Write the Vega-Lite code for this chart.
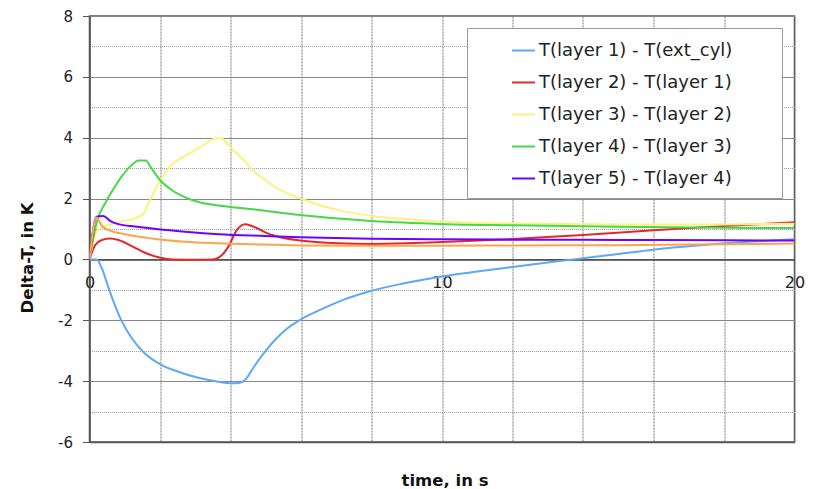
{
  "$schema": "https://vega.github.io/schema/vega-lite/v6.json",
  "width": 705,
  "height": 426,
  "autosize": {"type": "none"},
  "padding": {"left": 89.5, "top": 16, "right": 20, "bottom": 47},
  "background": "white",
  "config": {
    "font": "DejaVu Sans",
    "view": {"stroke": "#555", "strokeWidth": 1.5}
  },
  "datasets": {
    "series": [
      {"s": "T(layer 1) - T(ext_cyl)", "t": 0, "v": 0},
      {"s": "T(layer 1) - T(ext_cyl)", "t": 0.2, "v": 0},
      {"s": "T(layer 1) - T(ext_cyl)", "t": 0.35, "v": -0.29},
      {"s": "T(layer 1) - T(ext_cyl)", "t": 0.53, "v": -0.9},
      {"s": "T(layer 1) - T(ext_cyl)", "t": 0.72, "v": -1.5},
      {"s": "T(layer 1) - T(ext_cyl)", "t": 0.91, "v": -2.02},
      {"s": "T(layer 1) - T(ext_cyl)", "t": 1.2, "v": -2.59},
      {"s": "T(layer 1) - T(ext_cyl)", "t": 1.57, "v": -3.09},
      {"s": "T(layer 1) - T(ext_cyl)", "t": 2.05, "v": -3.47},
      {"s": "T(layer 1) - T(ext_cyl)", "t": 2.52, "v": -3.69},
      {"s": "T(layer 1) - T(ext_cyl)", "t": 3.09, "v": -3.89},
      {"s": "T(layer 1) - T(ext_cyl)", "t": 3.66, "v": -4.02},
      {"s": "T(layer 1) - T(ext_cyl)", "t": 4.03, "v": -4.07},
      {"s": "T(layer 1) - T(ext_cyl)", "t": 4.27, "v": -4.05},
      {"s": "T(layer 1) - T(ext_cyl)", "t": 4.41, "v": -3.96},
      {"s": "T(layer 1) - T(ext_cyl)", "t": 4.7, "v": -3.47},
      {"s": "T(layer 1) - T(ext_cyl)", "t": 4.98, "v": -3.03},
      {"s": "T(layer 1) - T(ext_cyl)", "t": 5.3, "v": -2.6},
      {"s": "T(layer 1) - T(ext_cyl)", "t": 5.6, "v": -2.28},
      {"s": "T(layer 1) - T(ext_cyl)", "t": 6.0, "v": -1.97},
      {"s": "T(layer 1) - T(ext_cyl)", "t": 6.54, "v": -1.66},
      {"s": "T(layer 1) - T(ext_cyl)", "t": 7.2, "v": -1.33},
      {"s": "T(layer 1) - T(ext_cyl)", "t": 8.0, "v": -1.03},
      {"s": "T(layer 1) - T(ext_cyl)", "t": 8.9, "v": -0.79},
      {"s": "T(layer 1) - T(ext_cyl)", "t": 10.0, "v": -0.56},
      {"s": "T(layer 1) - T(ext_cyl)", "t": 11.0, "v": -0.4},
      {"s": "T(layer 1) - T(ext_cyl)", "t": 12.0, "v": -0.25},
      {"s": "T(layer 1) - T(ext_cyl)", "t": 13.0, "v": -0.1},
      {"s": "T(layer 1) - T(ext_cyl)", "t": 14.0, "v": 0.04},
      {"s": "T(layer 1) - T(ext_cyl)", "t": 15.0, "v": 0.18},
      {"s": "T(layer 1) - T(ext_cyl)", "t": 16.0, "v": 0.32},
      {"s": "T(layer 1) - T(ext_cyl)", "t": 17.0, "v": 0.43},
      {"s": "T(layer 1) - T(ext_cyl)", "t": 18.0, "v": 0.53},
      {"s": "T(layer 1) - T(ext_cyl)", "t": 19.0, "v": 0.6},
      {"s": "T(layer 1) - T(ext_cyl)", "t": 20.0, "v": 0.66},

      {"s": "T(layer 2) - T(layer 1)", "t": 0, "v": 0},
      {"s": "T(layer 2) - T(layer 1)", "t": 0.16, "v": 0.47},
      {"s": "T(layer 2) - T(layer 1)", "t": 0.35, "v": 0.64},
      {"s": "T(layer 2) - T(layer 1)", "t": 0.58, "v": 0.69},
      {"s": "T(layer 2) - T(layer 1)", "t": 0.82, "v": 0.64},
      {"s": "T(layer 2) - T(layer 1)", "t": 1.2, "v": 0.44},
      {"s": "T(layer 2) - T(layer 1)", "t": 1.57, "v": 0.22},
      {"s": "T(layer 2) - T(layer 1)", "t": 1.95, "v": 0.07},
      {"s": "T(layer 2) - T(layer 1)", "t": 2.33, "v": 0.0},
      {"s": "T(layer 2) - T(layer 1)", "t": 3.0, "v": -0.01},
      {"s": "T(layer 2) - T(layer 1)", "t": 3.47, "v": 0.0},
      {"s": "T(layer 2) - T(layer 1)", "t": 3.75, "v": 0.14},
      {"s": "T(layer 2) - T(layer 1)", "t": 3.94, "v": 0.42},
      {"s": "T(layer 2) - T(layer 1)", "t": 4.18, "v": 0.97},
      {"s": "T(layer 2) - T(layer 1)", "t": 4.41, "v": 1.16},
      {"s": "T(layer 2) - T(layer 1)", "t": 4.6, "v": 1.1},
      {"s": "T(layer 2) - T(layer 1)", "t": 4.8, "v": 1.0},
      {"s": "T(layer 2) - T(layer 1)", "t": 5.0, "v": 0.88},
      {"s": "T(layer 2) - T(layer 1)", "t": 5.3, "v": 0.76},
      {"s": "T(layer 2) - T(layer 1)", "t": 5.97, "v": 0.62},
      {"s": "T(layer 2) - T(layer 1)", "t": 7.06, "v": 0.53},
      {"s": "T(layer 2) - T(layer 1)", "t": 8.0, "v": 0.51},
      {"s": "T(layer 2) - T(layer 1)", "t": 9.0, "v": 0.53},
      {"s": "T(layer 2) - T(layer 1)", "t": 10.0, "v": 0.57},
      {"s": "T(layer 2) - T(layer 1)", "t": 12.0, "v": 0.67},
      {"s": "T(layer 2) - T(layer 1)", "t": 14.0, "v": 0.8},
      {"s": "T(layer 2) - T(layer 1)", "t": 16.0, "v": 0.96},
      {"s": "T(layer 2) - T(layer 1)", "t": 18.0, "v": 1.1},
      {"s": "T(layer 2) - T(layer 1)", "t": 20.0, "v": 1.22},

      {"s": "T(layer 3) - T(layer 2)", "t": 0, "v": 0},
      {"s": "T(layer 3) - T(layer 2)", "t": 0.22, "v": 0.95},
      {"s": "T(layer 3) - T(layer 2)", "t": 0.58, "v": 1.15},
      {"s": "T(layer 3) - T(layer 2)", "t": 0.91, "v": 1.25},
      {"s": "T(layer 3) - T(layer 2)", "t": 1.25, "v": 1.33},
      {"s": "T(layer 3) - T(layer 2)", "t": 1.53, "v": 1.51},
      {"s": "T(layer 3) - T(layer 2)", "t": 1.67, "v": 1.84},
      {"s": "T(layer 3) - T(layer 2)", "t": 1.91, "v": 2.39},
      {"s": "T(layer 3) - T(layer 2)", "t": 2.28, "v": 3.05},
      {"s": "T(layer 3) - T(layer 2)", "t": 2.76, "v": 3.43},
      {"s": "T(layer 3) - T(layer 2)", "t": 3.23, "v": 3.76},
      {"s": "T(layer 3) - T(layer 2)", "t": 3.6, "v": 3.98},
      {"s": "T(layer 3) - T(layer 2)", "t": 3.72, "v": 3.98},
      {"s": "T(layer 3) - T(layer 2)", "t": 4.03, "v": 3.65},
      {"s": "T(layer 3) - T(layer 2)", "t": 4.42, "v": 3.21},
      {"s": "T(layer 3) - T(layer 2)", "t": 4.7, "v": 2.85},
      {"s": "T(layer 3) - T(layer 2)", "t": 5.0, "v": 2.6},
      {"s": "T(layer 3) - T(layer 2)", "t": 5.26, "v": 2.38},
      {"s": "T(layer 3) - T(layer 2)", "t": 5.97, "v": 2.01},
      {"s": "T(layer 3) - T(layer 2)", "t": 7.06, "v": 1.62},
      {"s": "T(layer 3) - T(layer 2)", "t": 8.0, "v": 1.43},
      {"s": "T(layer 3) - T(layer 2)", "t": 9.05, "v": 1.32},
      {"s": "T(layer 3) - T(layer 2)", "t": 10.09, "v": 1.24},
      {"s": "T(layer 3) - T(layer 2)", "t": 12.0, "v": 1.18},
      {"s": "T(layer 3) - T(layer 2)", "t": 15.0, "v": 1.15},
      {"s": "T(layer 3) - T(layer 2)", "t": 18.0, "v": 1.15},
      {"s": "T(layer 3) - T(layer 2)", "t": 20.0, "v": 1.17},

      {"s": "T(layer 4) - T(layer 3)", "t": 0, "v": 0},
      {"s": "T(layer 4) - T(layer 3)", "t": 0.22, "v": 1.29},
      {"s": "T(layer 4) - T(layer 3)", "t": 0.44, "v": 1.84},
      {"s": "T(layer 4) - T(layer 3)", "t": 0.63, "v": 2.22},
      {"s": "T(layer 4) - T(layer 3)", "t": 0.91, "v": 2.72},
      {"s": "T(layer 4) - T(layer 3)", "t": 1.15, "v": 3.05},
      {"s": "T(layer 4) - T(layer 3)", "t": 1.4, "v": 3.25},
      {"s": "T(layer 4) - T(layer 3)", "t": 1.59, "v": 3.25},
      {"s": "T(layer 4) - T(layer 3)", "t": 1.76, "v": 2.99},
      {"s": "T(layer 4) - T(layer 3)", "t": 2.0, "v": 2.61},
      {"s": "T(layer 4) - T(layer 3)", "t": 2.33, "v": 2.28},
      {"s": "T(layer 4) - T(layer 3)", "t": 2.71, "v": 2.04},
      {"s": "T(layer 4) - T(layer 3)", "t": 3.18, "v": 1.86},
      {"s": "T(layer 4) - T(layer 3)", "t": 3.85, "v": 1.75},
      {"s": "T(layer 4) - T(layer 3)", "t": 4.7, "v": 1.64},
      {"s": "T(layer 4) - T(layer 3)", "t": 5.97, "v": 1.46},
      {"s": "T(layer 4) - T(layer 3)", "t": 8.0, "v": 1.26},
      {"s": "T(layer 4) - T(layer 3)", "t": 10.09, "v": 1.16},
      {"s": "T(layer 4) - T(layer 3)", "t": 12.0, "v": 1.12},
      {"s": "T(layer 4) - T(layer 3)", "t": 15.0, "v": 1.07},
      {"s": "T(layer 4) - T(layer 3)", "t": 18.0, "v": 1.04},
      {"s": "T(layer 4) - T(layer 3)", "t": 20.0, "v": 1.03},

      {"s": "T(layer 5) - T(layer 4)", "t": 0, "v": 0},
      {"s": "T(layer 5) - T(layer 4)", "t": 0.2, "v": 1.4},
      {"s": "T(layer 5) - T(layer 4)", "t": 0.39, "v": 1.43},
      {"s": "T(layer 5) - T(layer 4)", "t": 0.58, "v": 1.27},
      {"s": "T(layer 5) - T(layer 4)", "t": 0.82, "v": 1.16},
      {"s": "T(layer 5) - T(layer 4)", "t": 1.29, "v": 1.08},
      {"s": "T(layer 5) - T(layer 4)", "t": 1.95, "v": 0.99},
      {"s": "T(layer 5) - T(layer 4)", "t": 2.71, "v": 0.91},
      {"s": "T(layer 5) - T(layer 4)", "t": 3.66, "v": 0.83},
      {"s": "T(layer 5) - T(layer 4)", "t": 4.98, "v": 0.77},
      {"s": "T(layer 5) - T(layer 4)", "t": 5.97, "v": 0.73},
      {"s": "T(layer 5) - T(layer 4)", "t": 8.0, "v": 0.68},
      {"s": "T(layer 5) - T(layer 4)", "t": 10.0, "v": 0.66},
      {"s": "T(layer 5) - T(layer 4)", "t": 12.0, "v": 0.65},
      {"s": "T(layer 5) - T(layer 4)", "t": 15.0, "v": 0.64},
      {"s": "T(layer 5) - T(layer 4)", "t": 18.0, "v": 0.63},
      {"s": "T(layer 5) - T(layer 4)", "t": 20.0, "v": 0.62},

      {"s": "T(layer 6) - T(layer 5)", "t": 0, "v": 0},
      {"s": "T(layer 6) - T(layer 5)", "t": 0.2, "v": 1.38},
      {"s": "T(layer 6) - T(layer 5)", "t": 0.35, "v": 1.1},
      {"s": "T(layer 6) - T(layer 5)", "t": 0.53, "v": 0.97},
      {"s": "T(layer 6) - T(layer 5)", "t": 1.01, "v": 0.83},
      {"s": "T(layer 6) - T(layer 5)", "t": 1.76, "v": 0.69},
      {"s": "T(layer 6) - T(layer 5)", "t": 2.71, "v": 0.58},
      {"s": "T(layer 6) - T(layer 5)", "t": 3.66, "v": 0.53},
      {"s": "T(layer 6) - T(layer 5)", "t": 4.98, "v": 0.49},
      {"s": "T(layer 6) - T(layer 5)", "t": 6.0, "v": 0.46},
      {"s": "T(layer 6) - T(layer 5)", "t": 8.0, "v": 0.45},
      {"s": "T(layer 6) - T(layer 5)", "t": 10.0, "v": 0.45},
      {"s": "T(layer 6) - T(layer 5)", "t": 12.0, "v": 0.46},
      {"s": "T(layer 6) - T(layer 5)", "t": 15.0, "v": 0.47},
      {"s": "T(layer 6) - T(layer 5)", "t": 18.0, "v": 0.5},
      {"s": "T(layer 6) - T(layer 5)", "t": 20.0, "v": 0.52}
    ]
  },
  "data": {"name": "series"},
  "layer": [
    {
      "mark": {"type": "line", "opacity": 0},
      "encoding": {
        "x": {
          "field": "t", "type": "quantitative",
          "scale": {"domain": [0, 20], "nice": false, "zero": false},
          "axis": {
            "orient": "bottom", "offset": -182.6,
            "values": [0, 10, 20], "labelFlush": false,
            "grid": false, "ticks": false,
            "domain": true, "domainColor": "#444", "domainWidth": 1.5,
            "labelFontSize": 16, "labelColor": "#222", "labelPadding": 15,
            "title": null
          }
        },
        "y": {
          "field": "v", "type": "quantitative",
          "scale": {"domain": [-6, 8], "nice": false},
          "axis": {
            "orient": "left",
            "values": [-5, -3, -1, 1, 3, 5, 7],
            "labels": false, "ticks": false, "domain": false,
            "grid": true, "gridColor": "#9c9c9c", "gridDash": [1, 1], "gridWidth": 1,
            "title": null
          }
        }
      }
    },
    {
      "mark": {"type": "line", "strokeWidth": 2, "interpolate": "monotone", "clip": true},
      "encoding": {
        "x": {
          "field": "t", "type": "quantitative",
          "axis": {
            "orient": "bottom",
            "values": [0, 2, 4, 6, 8, 10, 12, 14, 16, 18, 20],
            "labels": false, "ticks": false,
            "grid": true, "gridColor": "#777", "gridDash": [2, 1], "gridWidth": 1,
            "domain": true, "domainColor": "#555", "domainWidth": 1.5,
            "title": "time, in s", "titleFontSize": 16.5, "titleFontWeight": "bold",
            "titleColor": "#111", "titleX": 355, "titleY": 38, "titleBaseline": "middle"
          }
        },
        "y": {
          "field": "v", "type": "quantitative",
          "axis": {
            "orient": "left",
            "values": [-6, -4, -2, 0, 2, 4, 6, 8],
            "labelExpr": "'' + datum.value",
            "labelFontSize": 15, "labelColor": "#222", "labelPadding": 10,
            "tickSize": 7, "tickColor": "#555",
            "grid": true, "gridColor": "#888",
            "domainColor": "#555", "domainWidth": 1.5,
            "title": "Delta-T, in K", "titleFontSize": 16.5, "titleFontWeight": "bold",
            "titleColor": "#111", "titleX": -62, "titleY": 241.5, "titleBaseline": "middle", "titleAlign": "center"
          }
        },
        "color": {
          "field": "s", "type": "nominal",
          "scale": {
            "domain": ["T(layer 1) - T(ext_cyl)", "T(layer 2) - T(layer 1)", "T(layer 3) - T(layer 2)", "T(layer 4) - T(layer 3)", "T(layer 5) - T(layer 4)", "T(layer 6) - T(layer 5)"],
            "range": ["#5fa8f8", "#e02a2a", "#fff07c", "#46d846", "#7000ff", "#ffa348"]
          },
          "legend": {
            "orient": "none", "legendX": 377.5, "legendY": 12,
            "values": ["T(layer 1) - T(ext_cyl)", "T(layer 2) - T(layer 1)", "T(layer 3) - T(layer 2)", "T(layer 4) - T(layer 3)", "T(layer 5) - T(layer 4)"],
            "title": null,
            "symbolType": "stroke", "symbolSize": 529, "symbolStrokeWidth": 2,
            "symbolOffset": 34,
            "labelFontSize": 18, "labelColor": "#222", "labelOffset": 3, "labelLimit": 400,
            "labelExpr": "datum.label + '\u2800\u2800\u2800'",
            "fillColor": "white", "strokeColor": "#999",
            "padding": 10, "rowPadding": 10
          }
        }
      }
    }
  ],
  "resolve": {"axis": {"x": "independent", "y": "independent"}}
}
